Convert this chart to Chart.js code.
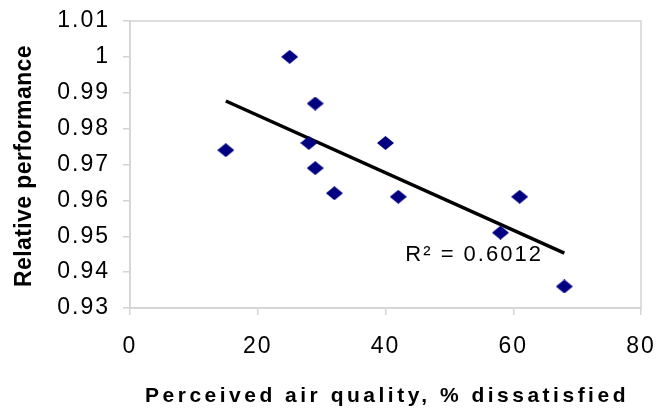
<!DOCTYPE html>
<html>
<head>
<meta charset="utf-8">
<script src="https://cdn.jsdelivr.net/npm/chart.js@4.4.0/dist/chart.umd.min.js"></script>
<style>
  html, body { margin: 0; padding: 0; background: #fff; }
  #wrap { width: 657px; height: 410px; }
</style>
</head>
<body>
<div id="wrap"><canvas id="chart"></canvas></div>
<script>
// data
const airQuality = [15, 25, 28, 29, 29, 32, 40, 42, 58, 61, 68];
const relPerformance = [0.974, 1.0, 0.976, 0.987, 0.969, 0.962, 0.976, 0.961, 0.951, 0.961, 0.936];
const trendX = [15, 68];
const trendY = [0.9877, 0.9453];
const xTicks = [0, 20, 40, 60, 80];
const yTicks = [0.93, 0.94, 0.95, 0.96, 0.97, 0.98, 0.99, 1, 1.01];
const xTitle = 'Perceived air quality, % dissatisfied';
const yTitle = 'Relative performance';
const r2Label = 'R\u00B2 = 0.6012';

const FONT = '"Liberation Sans", Arial, sans-serif';
const boxColor = '#d4d4d4';

// diamond marker, a bit wider than tall like the original
function diamond(w, h, color) {
  const c = document.createElement('canvas');
  c.width = w; c.height = h;
  const g = c.getContext('2d');
  g.fillStyle = color;
  g.beginPath();
  g.moveTo(w / 2, 0);
  g.lineTo(w, h / 2);
  g.lineTo(w / 2, h);
  g.lineTo(0, h / 2);
  g.closePath();
  g.fill();
  return c;
}

const points = airQuality.map((x, i) => ({ x: x, y: relPerformance[i] }));
const trend = trendX.map((x, i) => ({ x: x, y: trendY[i] }));

const extras = {
  id: 'extras',
  beforeLayout(chart) { chart.ctx.letterSpacing = '2px'; },
  beforeDraw(chart) { chart.ctx.letterSpacing = '2px'; },
  beforeDatasetsDraw(chart) {
    const a = chart.chartArea, ctx = chart.ctx;
    ctx.save();
    ctx.strokeStyle = boxColor;
    ctx.lineWidth = 1.5;
    ctx.strokeRect(a.left, a.top, a.right - a.left, a.bottom - a.top);
    ctx.restore();
  },
  afterDraw(chart) {
    const ctx = chart.ctx;
    const xs = chart.scales.x, ys = chart.scales.y;
    ctx.save();
    ctx.fillStyle = '#000';
    ctx.textAlign = 'center';
    ctx.textBaseline = 'alphabetic';
    // x title
    ctx.font = 'bold 21px ' + FONT;
    ctx.letterSpacing = '3.5px';
    ctx.fillText(xTitle, 387, 402);
    // y title
    ctx.save();
    ctx.translate(31, 166);
    ctx.rotate(-Math.PI / 2);
    ctx.font = 'bold 23px ' + FONT;
    ctx.letterSpacing = '0.4px';
    ctx.fillText(yTitle, 0, 0);
    ctx.restore();
    // R squared
    ctx.font = '22px ' + FONT;
    ctx.letterSpacing = '2px';
    ctx.textAlign = 'left';
    ctx.fillText(r2Label, xs.getPixelForValue(43.1), ys.getPixelForValue(0.943));
    ctx.restore();
  }
};

new Chart(document.getElementById('chart'), {
  type: 'scatter',
  data: {
    datasets: [
      {
        label: 'Relative performance',
        data: points,
        pointStyle: diamond(17, 14, '#000080'),
        pointRadius: 8,
        pointHoverRadius: 8
      },
      {
        type: 'line',
        label: 'Trend',
        data: trend,
        borderColor: '#000',
        borderWidth: 3.5,
        pointRadius: 0,
        fill: false
      }
    ]
  },
  options: {
    responsive: true,
    maintainAspectRatio: false,
    animation: false,
    layout: { padding: { top: 21, right: 16, left: 0, bottom: 0 } },
    plugins: {
      legend: { display: false },
      tooltip: { enabled: false }
    },
    scales: {
      x: {
        type: 'linear',
        min: 0,
        max: 80,
        afterBuildTicks: s => { s.ticks = xTicks.map(v => ({ value: v })); },
        afterFit: s => { s.height = 102; s.paddingLeft = 0; s.paddingRight = 0; },
        grid: { drawOnChartArea: false, drawTicks: true, tickLength: 7, color: boxColor, lineWidth: 1.5 },
        border: { color: boxColor, width: 1.5 },
        ticks: { color: '#000', font: { family: FONT, size: 23 }, padding: 18, callback: v => String(v) }
      },
      y: {
        type: 'linear',
        min: 0.93,
        max: 1.01,
        afterBuildTicks: s => { s.ticks = yTicks.map(v => ({ value: v })); },
        afterFit: s => { s.width = 130; s.paddingTop = 0; s.paddingBottom = 0; },
        grid: { drawOnChartArea: false, drawTicks: true, tickLength: 7, color: boxColor, lineWidth: 1.5 },
        border: { color: boxColor, width: 1.5 },
        ticks: { color: '#000', font: { family: FONT, size: 23 }, padding: 13, callback: v => String(+v.toFixed(2)) }
      }
    }
  },
  plugins: [extras]
});
</script>
</body>
</html>
